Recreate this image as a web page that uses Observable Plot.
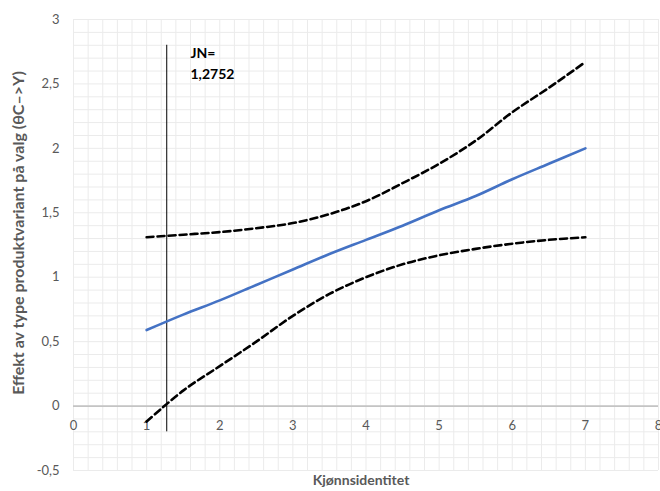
<!DOCTYPE html>
<html>
<head>
<meta charset="utf-8">
<script src="https://cdn.jsdelivr.net/npm/d3@7"></script>
<script src="https://cdn.jsdelivr.net/npm/@observablehq/plot@0.6"></script>
<style>
  html, body { margin: 0; padding: 0; background: #fff; }
  svg { font-family: Lato, "Open Sans", sans-serif; display: block; }
</style>
</head>
<body>
<div id="chart"></div>
<script>
// Data
const xs    = [1, 1.5, 2, 2.5, 3, 3.5, 4, 4.5, 5, 5.5, 6, 6.5, 7];
const effect = [0.59, 0.71, 0.82, 0.94, 1.06, 1.18, 1.29, 1.40, 1.52, 1.63, 1.76, 1.88, 2.00];
const upper  = [1.31, 1.33, 1.35, 1.38, 1.42, 1.49, 1.59, 1.73, 1.88, 2.06, 2.28, 2.47, 2.67];
const lower  = [-0.12, 0.12, 0.31, 0.50, 0.70, 0.87, 1.00, 1.10, 1.17, 1.22, 1.26, 1.29, 1.31];

const jn = 1.2752;
const jnLineRange = [-0.2, 2.8];
const jnLabel = "JN=\n1,2752";
const jnLabelPos = {x: 1.6, y: 2.67};

const xTicks = [0, 1, 2, 3, 4, 5, 6, 7, 8];
const yTicks = [-0.5, 0, 0.5, 1, 1.5, 2, 2.5, 3];
const xMinor = d3.range(0, 8.001, 0.2);
const yMinor = d3.range(-0.5, 3.001, 0.1);

const xTitle = "Kjønnsidentitet";
const yTitle = "Effekt av type produktvariant på valg (θC–>Y)";

const fmt = d => String(d).replace(".", ",");
const rows = xs.map((x, i) => ({x, effect: effect[i], upper: upper[i], lower: lower[i]}));

const chart = Plot.plot({
  width: 660,
  height: 491,
  marginLeft: 73,
  marginRight: 2,
  marginTop: 19,
  marginBottom: 21,
  x: {domain: [0, 8], axis: null},
  y: {domain: [-0.5, 3]},
  marks: [
    Plot.ruleX(xMinor, {stroke: "#ebebeb", strokeWidth: 1}),
    Plot.ruleY(yMinor, {stroke: "#ebebeb", strokeWidth: 1}),
    Plot.ruleY([0], {stroke: "#c4c4c4", strokeWidth: 1.8}),
    Plot.axisY(yTicks, {tickSize: 0, tickPadding: 14, tickFormat: fmt, fontSize: 13, fill: "#595959", label: null}),
    Plot.text(xTicks, {x: d => d, y: 0, dy: 20, text: fmt, fontSize: 13, fill: "#595959"}),
    Plot.ruleX([jn], {y1: jnLineRange[0], y2: jnLineRange[1], stroke: "#000", strokeWidth: 1}),
    Plot.line(rows, {x: "x", y: "upper", stroke: "#000", strokeWidth: 2.6, strokeDasharray: "7,4", curve: "catmull-rom"}),
    Plot.line(rows, {x: "x", y: "lower", stroke: "#000", strokeWidth: 2.6, strokeDasharray: "7,4", curve: "catmull-rom"}),
    Plot.line(rows, {x: "x", y: "effect", stroke: "#4472C4", strokeWidth: 2.6, curve: "catmull-rom"}),
    Plot.text([jnLabel], {x: jnLabelPos.x, y: jnLabelPos.y, text: d => d, textAnchor: "start", fontSize: 14, fontWeight: "bold", fill: "#000", lineHeight: 1.45}),
    Plot.text([xTitle], {frameAnchor: "bottom", dx: -5, dy: 14, text: d => d, fontSize: 14, fontWeight: "bold", fill: "#595959"}),
    Plot.text([yTitle], {frameAnchor: "left", textAnchor: "middle", dx: -55, dy: -12, rotate: -90, text: d => d, fontSize: 16, fontWeight: "bold", fill: "#595959"})
  ]
});
document.getElementById("chart").appendChild(chart);
</script>
</body>
</html>
